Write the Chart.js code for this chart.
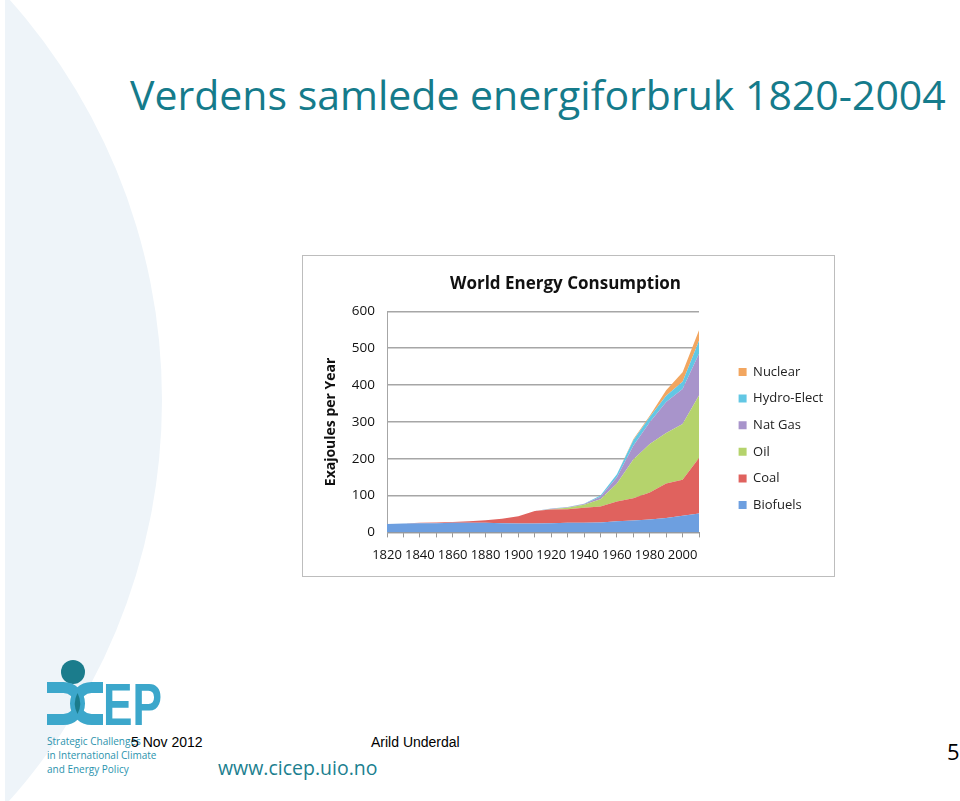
<!DOCTYPE html>
<html>
<head>
<meta charset="utf-8">
<script src="https://cdn.jsdelivr.net/npm/chart.js@4.4.0/dist/chart.umd.min.js"></script>
<style>
  html, body { margin: 0; padding: 0; background: #fff; }
  body { width: 960px; height: 801px; position: relative; overflow: hidden; font-family: "Open Sans", sans-serif; }
  #deco { position: absolute; left: 5px; top: 0; width: 200px; height: 801px; overflow: hidden; }
  #deco div { position: absolute; left: -1047px; top: -202px; width: 1204px; height: 1204px; border-radius: 50%; background: #eef4f9; }
  #title { position: absolute; left: 130px; top: 74px; font-size: 41px; line-height: 41px; color: #157b8b; white-space: nowrap; }
  #frame { position: absolute; left: 302px; top: 255px; width: 531px; height: 320px; border: 1px solid #bdbdbd; background: #fff; }
  #frame canvas { display: block; }
  .foot { position: absolute; font-family: "Liberation Sans", Arial, sans-serif; font-size: 14px; color: #000; white-space: nowrap; }
  #tag { position: absolute; left: 47px; top: 735px; font-size: 10px; line-height: 13.8px; color: #2b93ad; }
  #url { position: absolute; left: 218px; top: 754px; font-size: 19.5px; color: #1c7f8f; white-space: nowrap; }
  #page { position: absolute; left: 947px; top: 736px; font-size: 22px; color: #000; }
</style>
</head>
<body>
<div id="deco"><div></div></div>
<div id="title">Verdens samlede energiforbruk 1820-2004</div>
<div id="frame"><canvas id="c" width="531" height="320"></canvas></div>

<svg style="position:absolute;left:44px;top:656px" width="125" height="74">
  <circle cx="29" cy="16" r="12" fill="#1b7c8c"/>
  <path d="M3 31.5 H19.5 A16 16 0 0 1 19.5 63.5 H3" fill="none" stroke="#3ca7cb" stroke-width="11"/>
  <path d="M59 31.5 H47.5 A16 16 0 0 0 47.5 63.5 H59" fill="none" stroke="#3ca7cb" stroke-width="11"/>
  <path d="M33.5 37 Q39 47.5 33.5 58 Q28 47.5 33.5 37 Z" fill="#1b7c8c"/>
  <text x="59" y="69" font-family="Liberation Sans, Arial" font-weight="bold" font-size="59" fill="#3ca7cb" textLength="59" lengthAdjust="spacingAndGlyphs">EP</text>
</svg>
<div id="tag">Strategic Challenges<br>in International Climate<br>and Energy Policy</div>
<div class="foot" style="left:131px;top:734px">5 Nov 2012</div>
<div class="foot" style="left:371px;top:734px">Arild Underdal</div>
<div id="url">www.cicep.uio.no</div>
<div id="page">5</div>

<script>
const years = ["1820","1830","1840","1850","1860","1870","1880","1890","1900","1910",
               "1920","1930","1940","1950","1960","1970","1980","1990","2000","2010"];

const biofuels = [23,24,25,25,26,26,26,25,24,24,25,26,26,27,30,32,35,39,45,51];
const coal     = [0,0,1,2,2,4,7,12,20,34,37,37,41,43,54,61,73,94,98,151];
const oil      = [0,0,0,0,0,0,0,0,0,0,1,4,8,20,49,105,132,137,151,170];
const natGas   = [0,0,0,0,0,0,0,0,0,0,1,1,2,7,17,37,59,84,95,113];
const hydro    = [0,0,0,0,0,0,0,0,0,0,1,1,1,3,8,15,14,17,20,35];
const nuclear  = [0,0,0,0,0,0,0,0,0,0,0,0,0,0,0,3,4,15,26,29];

const yTicks = [0,100,200,300,400,500,600];

function area(label, data, color, fill) {
    return {
        label: label,
        data: data,
        backgroundColor: color,
        borderColor: color,
        borderWidth: 0,
        pointRadius: 0,
        tension: 0,
        fill: fill
    };
}

// legend sits a bit away from the plot, like the Excel original
const legendShift = {
    id: "legendShift",
    afterLayout(chart) {
        const l = chart.legend;
        l.left += 26; l.right += 26;
        l.top += 24; l.bottom += 24;
    }
};

new Chart(document.getElementById("c"), {
    type: "line",
    data: {
        labels: years,
        datasets: [
            area("Biofuels", biofuels, "#6d9fe0", "origin"),
            area("Coal", coal, "#e0625e", "-1"),
            area("Oil", oil, "#b5d36c", "-1"),
            area("Nat Gas", natGas, "#a894cb", "-1"),
            area("Hydro-Elect", hydro, "#62c7e4", "-1"),
            area("Nuclear", nuclear, "#f2a660", "-1")
        ]
    },
    options: {
        responsive: false,
        animation: false,
        layout: { padding: { right: 6, bottom: 3 } },
        plugins: {
            title: {
                display: true,
                text: "World Energy Consumption",
                color: "#111",
                font: { family: "Open Sans", size: 17, weight: "bold" },
                padding: { top: 18, bottom: 17 }
            },
            legend: {
                position: "right",
                reverse: true,
                labels: {
                    color: "#222",
                    font: { family: "Open Sans", size: 13 },
                    boxWidth: 8,
                    boxHeight: 8,
                    padding: 13.6
                }
            },
            tooltip: { enabled: false }
        },
        scales: {
            x: {
                afterFit: s => { s.paddingRight = 135; },
                grid: {
                    drawOnChartArea: false,
                    color: "#999",
                    tickLength: 5
                },
                border: { color: "#999" },
                ticks: {
                    autoSkip: false,
                    maxRotation: 0,
                    padding: 10,
                    color: "#111",
                    font: { family: "Open Sans", size: 13 },
                    callback: function (v, i) { return i % 2 === 0 ? years[i] : ""; }
                }
            },
            y: {
                stacked: true,
                min: 0,
                max: 600,
                afterFit: s => { s.width = 84; },
                afterBuildTicks: s => { s.ticks = yTicks.map(v => ({ value: v })); },
                grid: { color: "#a6a6a6", lineWidth: 1.5, drawTicks: false },
                border: { color: "#a6a6a6" },
                ticks: {
                    padding: 12,
                    color: "#111",
                    font: { family: "Open Sans", size: 13.5 }
                },
                title: {
                    display: true,
                    text: "Exajoules per Year",
                    color: "#111",
                    font: { family: "Open Sans", size: 14, weight: "bold" },
                    padding: { top: 20, bottom: 0 }
                }
            }
        }
    },
    plugins: [legendShift]
});
</script>
</body>
</html>
